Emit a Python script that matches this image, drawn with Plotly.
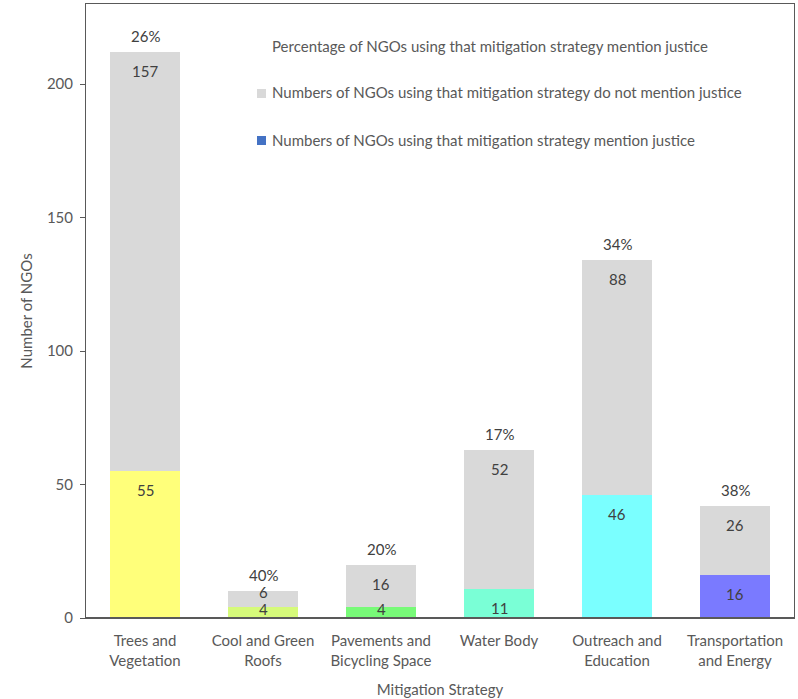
import plotly.graph_objects as go

categories = ["Trees and<br>Vegetation", "Cool and Green<br>Roofs", "Pavements and<br>Bicycling Space",
              "Water Body", "Outreach and<br>Education", "Transportation<br>and Energy"]
mention = [55, 4, 4, 11, 46, 16]
not_mention = [157, 6, 16, 52, 88, 26]
percent_labels = ["26%", "40%", "20%", "17%", "34%", "38%"]
bar_colors = ["#FFFF7A", "#D6FA7A", "#78FA78", "#7AFFD6", "#7AFFFF", "#7A7AFF"]
legend_names = ["Percentage of NGOs using that mitigation strategy mention justice",
                "Numbers of NGOs using that mitigation strategy do not mention justice",
                "Numbers of NGOs using that mitigation strategy mention justice"]

FONT = "Lato"
FS = 15
TXT = "#404040"
AX = "#595959"
GRAY = "#D9D9D9"
LEG_BLUE = "#4472C4"

W, H = 798, 699
ML, MR, MT, MB = 86, 4, 4, 81
PW, PH = W - ML - MR, H - MT - MB

totals = [a + b for a, b in zip(mention, not_mention)]

fig = go.Figure()
fig.add_trace(go.Bar(x=categories, y=mention, marker=dict(color=bar_colors, line=dict(width=0)),
                     width=0.6, name=legend_names[2], showlegend=False))
fig.add_trace(go.Bar(x=categories, y=not_mention, marker=dict(color=GRAY, line=dict(width=0)),
                     width=0.6, name=legend_names[1], showlegend=False))

YMAX = 230
PX_PER_UNIT = PH / YMAX
annotations = []
tfont = dict(family=FONT, size=FS, color=TXT)
for i, cat in enumerate(categories):
    annotations.append(dict(x=cat, y=totals[i], text=percent_labels[i], showarrow=False,
                            yanchor="bottom", yshift=5, font=tfont))
    for bottom, val in ((0, mention[i]), (mention[i], not_mention[i])):
        h = val * PX_PER_UNIT
        if h >= 22:
            annotations.append(dict(x=cat, y=bottom + val, text=str(val), showarrow=False,
                                    yanchor="top", yshift=-8, font=tfont))
        else:
            annotations.append(dict(x=cat, y=bottom + val, text=str(val), showarrow=False,
                                    yanchor="middle", yshift=-1 if bottom > 0 else -2, font=tfont))

def px_to_paper_x(px):
    return (px - ML) / PW

def px_to_paper_y(py):
    return (H - MB - py) / PH

leg_text_x = 270
leg_rows = [45.5, 92.5, 139.5]
leg_swatch = [None, GRAY, LEG_BLUE]
shapes = []
for name, yc, col in zip(legend_names, leg_rows, leg_swatch):
    annotations.append(dict(xref="paper", yref="paper", x=px_to_paper_x(leg_text_x), y=px_to_paper_y(yc),
                            xanchor="left", yanchor="middle", text=name, showarrow=False,
                            font=dict(family=FONT, size=FS, color=AX)))
    if col:
        shapes.append(dict(type="rect", xref="paper", yref="paper",
                           x0=px_to_paper_x(257), x1=px_to_paper_x(266),
                           y0=px_to_paper_y(yc + 1 - 4.5), y1=px_to_paper_y(yc + 1 + 4.5),
                           fillcolor=col, line=dict(width=0)))
# slightly heavier baseline, as in the reference
shapes.append(dict(type="line", xref="paper", yref="y", x0=0, x1=1, y0=0, y1=0,
                   line=dict(color=AX, width=2)))

fig.update_layout(
    barmode="stack",
    width=W, height=H,
    margin=dict(l=ML, r=MR, t=MT, b=MB),
    paper_bgcolor="white", plot_bgcolor="white",
    font=dict(family=FONT, size=FS, color=AX),
    showlegend=False,
    annotations=annotations,
    shapes=shapes,
    xaxis=dict(showline=True, linecolor=AX, linewidth=1, mirror=True, ticks="", automargin=False,
               ticklabelstandoff=9,
               title=dict(text="Mitigation Strategy", standoff=16, font=dict(family=FONT, size=FS, color=AX)),
               tickfont=dict(family=FONT, size=FS, color=AX)),
    yaxis=dict(range=[0, YMAX], dtick=50, showgrid=False, zeroline=False, showline=True, automargin=False,
               linecolor=AX, linewidth=1, mirror=True, ticks="outside", ticklen=5, tickcolor=AX,
               ticklabelstandoff=4,
               title=dict(text="Number of NGOs", standoff=10, font=dict(family=FONT, size=FS, color=AX)),
               tickfont=dict(family=FONT, size=FS, color=AX)),
)

fig.write_html("out.html", config={"displayModeBar": False},
               post_script="document.body.style.margin='0';document.body.style.overflow='hidden';")
